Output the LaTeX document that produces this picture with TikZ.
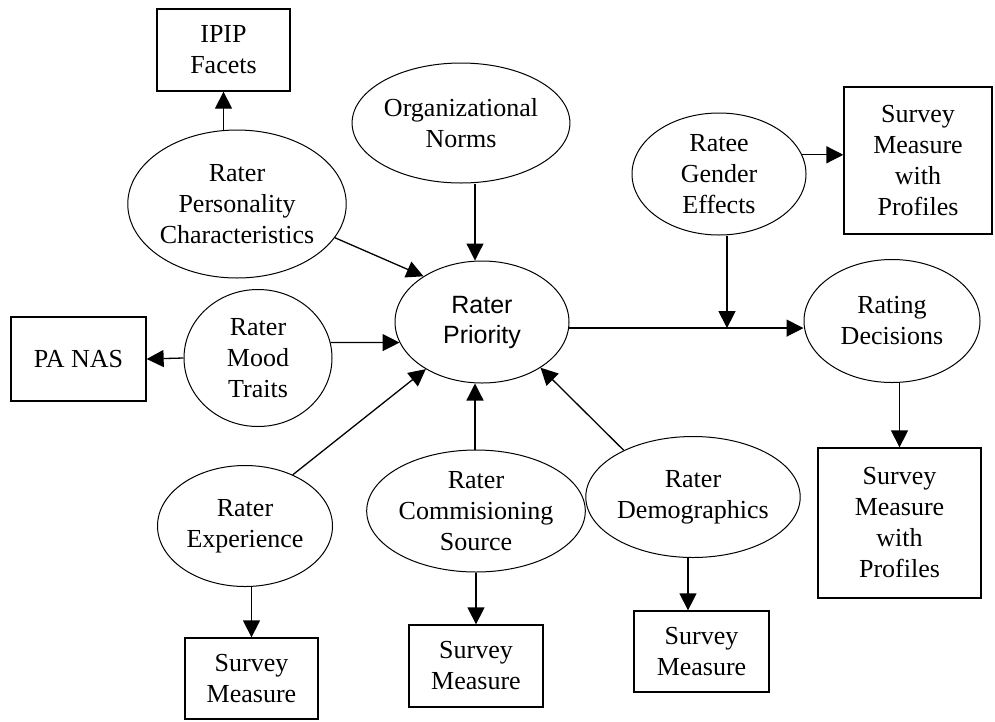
\documentclass[tikz,border=0pt]{standalone}
\usepackage{fontspec}
\setmainfont{Liberation Serif}
\newfontfamily\arialfont{Liberation Sans}
\usetikzlibrary{arrows.meta,shapes.geometric}
\begin{document}
\begin{tikzpicture}[x=1pt,y=-1pt,
  every node/.style={font=\fontsize{26}{31}\selectfont, align=center, inner sep=0pt},
  ell/.style={draw, line width=1pt, ellipse},
  box/.style={draw, line width=1.3pt, rectangle},
  arr/.style={line width=1.3pt, -{Triangle[length=17pt,width=17pt]}}]
\useasboundingbox (0,0) rectangle (995,721);
% ellipses
\node[ell, minimum width=212pt, minimum height=148pt] (pers) at (237,204) {Rater\\Personality\\Characteristics};
\node[ell, minimum width=214pt, minimum height=120pt] (org) at (461,123) {Organizational\\Norms};
\node[ell, minimum width=174pt, minimum height=122pt, font=\arialfont\fontsize{25}{30}\selectfont] (prio) at (482,322) {Rater\\Priority};
\node[ell, minimum width=148pt, minimum height=137pt] (mood) at (258,358) {Rater\\Mood\\Traits};
\node[ell, minimum width=175pt, minimum height=121pt] (exp) at (245,526) {Rater\\Experience};
\node[ell, minimum width=214pt, minimum height=122pt] (comm) at (476,511) {Rater\\Commisioning\\Source};
\node[ell, minimum width=200pt, minimum height=121pt] (demo) at (693,497) {Rater\\Demographics};
\node[ell, minimum width=174pt, minimum height=122pt] (ratee) at (719,174) {Ratee\\Gender\\Effects};
\node[ell, minimum width=176pt, minimum height=123pt] (rating) at (892,321) {Rating\\Decisions};
% boxes
\node[box, minimum width=133pt, minimum height=82pt] (ipip) at (223.5,50) {IPIP\\Facets};
\node[box, minimum width=135pt, minimum height=84pt] (panas) at (78.5,359) {PA NAS};
\node[box, minimum width=133pt, minimum height=81pt] (expbox) at (251.5,678.5) {Survey\\Measure};
\node[box, minimum width=134pt, minimum height=82pt] (commbox) at (476,666) {Survey\\Measure};
\node[box, minimum width=135pt, minimum height=81pt] (demobox) at (701.5,651.5) {Survey\\Measure};
\node[box, minimum width=148pt, minimum height=147pt] (sp1) at (918,160.5) {Survey\\Measure\\with\\Profiles};
\node[box, minimum width=163pt, minimum height=150pt] (sp2) at (899.5,523) {Survey\\Measure\\with\\Profiles};
% connectors
\draw[arr] (pers.north -| ipip.south) -- (ipip.south);
\draw[arr] ([xshift=14pt]org.south) -- ([xshift=-7pt]prio.north);
\draw[arr] (pers.-19) -- (prio.142);
\draw[arr] (mood.12) -- (prio.194);
\draw[arr] (mood.west) -- (panas.east);
\draw[arr] (exp.47) -- (prio.220);
\draw[arr] ([xshift=-1pt]comm.north) -- ([xshift=-1pt]comm.north |- prio.south);
\draw[arr] (demo.146) -- (prio.-38);
\draw[arr] (prio.-4) -- (prio.-4 -| rating.west);
\draw[arr] ([xshift=8pt]ratee.south) -- ([xshift=8pt]ratee.south |- prio.-4);
\draw[arr] (ratee.13) -- (ratee.13 -| sp1.west);
\draw[arr] (sp2.north |- rating.south) -- (sp2.north);
\draw[arr] (expbox.north |- exp.south) -- (expbox.north);
\draw[arr] (comm.south) -- (commbox.north);
\draw[arr] ([xshift=-5pt]demo.south) -- ([xshift=-5pt]demo.south |- demobox.north);
\end{tikzpicture}
\end{document}
